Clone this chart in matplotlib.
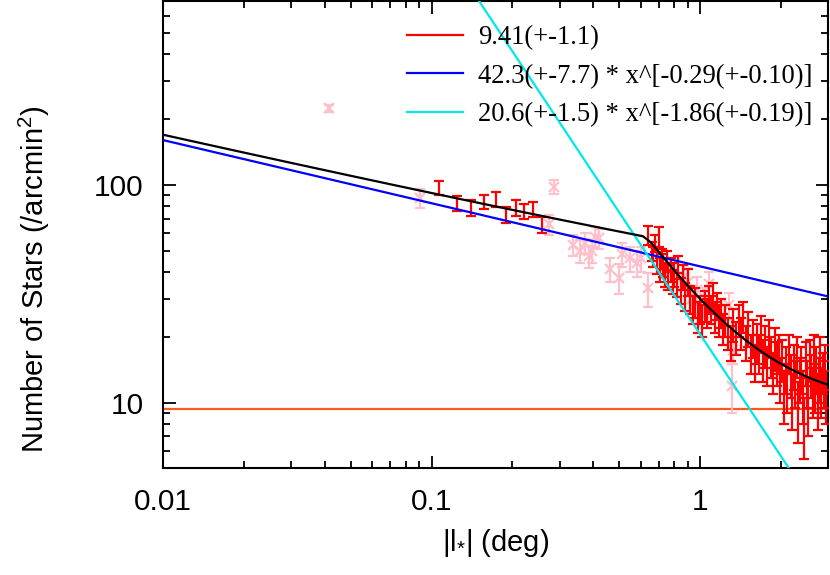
import numpy as np
import matplotlib
matplotlib.use("Agg")
import matplotlib.pyplot as plt
from matplotlib.lines import Line2D

plt.rcParams["font.family"] = ["Liberation Sans", "DejaVu Sans"]
plt.rcParams["mathtext.fontset"] = "custom"
plt.rcParams["mathtext.rm"] = "Liberation Sans"
plt.rcParams["mathtext.it"] = "Liberation Sans:italic"
plt.rcParams["mathtext.bf"] = "Liberation Sans:bold"

# ---- fit parameters (from legend) ----
const_level = 9.41
pow1_amp, pow1_idx = 42.3, -0.29
pow2_amp, pow2_idx = 20.6, -1.86
legend_labels = ["9.41(+-1.1)",
                 "42.3(+-7.7) * x^[-0.29(+-0.10)]",
                 "20.6(+-1.5) * x^[-1.86(+-0.19)]"]

# ---- red data points ----
red_x = [0.107, 0.1245, 0.1404, 0.1574, 0.1734, 0.190, 0.207, 0.2216, 0.2388, 0.258,
         0.64, 0.66, 0.67, 0.68, 0.69, 0.70, 0.71, 0.72, 0.73, 0.74, 0.75, 0.76, 0.78, 0.79,
         0.80, 0.82, 0.83, 0.85, 0.86, 0.88, 0.90, 0.92, 0.94, 0.96, 0.98, 1.00, 1.02, 1.04,
         1.06, 1.08, 1.10, 1.12, 1.14, 1.16, 1.18, 1.20, 1.22, 1.24, 1.27, 1.30, 1.33, 1.36,
         1.39, 1.42, 1.45, 1.48, 1.51, 1.54, 1.57, 1.60, 1.63, 1.66, 1.69, 1.72, 1.75, 1.78,
         1.81, 1.84, 1.87, 1.90, 1.93, 1.96, 1.99, 2.02, 2.05, 2.08, 2.11, 2.14, 2.17, 2.20,
         2.23, 2.26, 2.29, 2.32, 2.35, 2.38, 2.41, 2.44, 2.47, 2.50, 2.53, 2.56, 2.59, 2.62,
         2.65, 2.68, 2.71, 2.74, 2.77, 2.80, 2.83, 2.86, 2.89, 2.92, 2.95]
red_y = [96.9, 82.1, 78.7, 83.9, 86.0, 72.9, 78.7, 76.1, 77.4, 65.7,
         59, 50, 47, 54, 44, 58, 41, 46, 43, 39, 45, 38, 41, 36,
         39, 35, 42, 33, 38, 31, 36, 30, 27, 29, 25, 27, 24, 28,
         26, 30, 27, 31, 25, 28, 24, 26, 22, 24, 21, 19, 23, 20,
         24, 21, 25, 19, 22, 17, 20, 15.5, 19, 17, 21, 16, 18.5, 15,
         20, 16.5, 14, 18, 15.5, 17, 13, 16, 11, 14.5, 12, 17, 13.5, 10.5,
         15, 12.5, 16.5, 9.5, 13, 14.5, 11, 8, 15.5, 12.5, 10, 16, 13.5, 11.5,
         17, 12, 14.5, 10.5, 13, 16.5, 11.5, 14, 12.5, 15, 11]
red_err = [7, 6.5, 6.5, 6.5, 7, 6, 6.5, 6, 6, 5.5,
           6, 5, 5, 5, 5, 6, 5, 5, 5, 5, 5, 5, 5, 4.5,
           5, 4.5, 5, 4.5, 5, 4.5, 5, 4.5, 4, 4.5, 4, 4, 4, 4.5,
           4, 4.5, 4, 4.5, 4, 4, 4, 4, 3.5, 4, 3.5, 3.5, 4, 3.5,
           4, 3.5, 4, 3.5, 4, 3.5, 4, 3, 4, 3.5, 4, 3.5, 4, 3,
           4, 3.5, 3, 4, 3.5, 3.5, 3, 3.5, 3, 3.5, 3, 3.5, 3, 3,
           3.5, 3, 3.5, 3, 3, 3.5, 3, 2.5, 3.5, 3, 3, 3.5, 3, 3,
           3.5, 3, 3.5, 3, 3, 3.5, 3, 3, 3, 3.5, 3]

# ---- pink data points ----
pink_x = [0.0414, 0.0904, 0.2745, 0.2866, 0.337, 0.357, 0.372, 0.385, 0.396, 0.405, 0.42,
          0.46, 0.50, 0.51, 0.55, 0.58, 0.60, 0.64, 0.87, 0.90, 0.93, 0.97, 1.03, 1.08,
          1.28, 1.32, 1.31]
pink_y = [225, 87, 66, 98, 53, 50, 54, 47, 50, 58, 57,
          41, 37.6, 48, 46, 44, 46, 33.5, 38, 36, 30, 33, 29, 35,
          28, 17.5, 12]
pink_err = [8, 8.5, 7, 7, 6, 6, 6, 5.5, 6, 6, 6,
            5, 6, 6, 6, 6, 6, 6, 5, 5, 4.5, 5, 4.5, 5,
            4, 2.5, 3]

W, H = 830, 575
fig = plt.figure(figsize=(W / 100, H / 100), dpi=100)
L, R, T, B = 163, 828.3, 1.0, 468.3
ax = fig.add_axes([L / W, 1 - B / H, (R - L) / W, (B - T) / H])
ax.set_xscale("log")
ax.set_yscale("log")
ax.set_xlim(0.01, 3.0)
ax.set_ylim(5, 700)

xm = np.geomspace(0.01, 3.0, 80)
p1 = pow1_amp * xm ** pow1_idx
p2 = pow2_amp * xm ** pow2_idx

LW = 1.6
ax.axhline(const_level, color="#ff5a1e", lw=LW, zorder=2)
ax.plot(xm, p1, color="#0000ff", lw=LW, zorder=5)
ax.plot(xm, p2, color="#00e8e8", lw=LW, zorder=5)
ax.plot(xm, const_level + np.minimum(p1, p2), color="black", lw=LW, zorder=6)

ax.errorbar(pink_x, pink_y, yerr=pink_err, fmt="x", color="#ffc0cb", ms=7, mew=1.6,
            elinewidth=1.6, capsize=3.6, capthick=1.6, zorder=3)
ax.errorbar(red_x, red_y, yerr=red_err, fmt="none", ecolor="#ff0000",
            elinewidth=1.6, capsize=3.6, capthick=1.6, zorder=4)

ax.set_xticks([0.01, 0.1, 1])
ax.set_xticklabels(["0.01", "0.1", "1"])
ax.set_yticks([10, 100])
ax.set_yticklabels(["10", "100"])
ax.tick_params(which="both", direction="in", top=True, right=True, width=1.3, labelsize=21.5)
ax.tick_params(which="major", length=9, pad=14)
ax.tick_params(which="minor", length=5)
for s in ax.spines.values():
    s.set_linewidth(1.5)

ax.set_xlabel(r"|l$_{*}$| (deg)", fontsize=21, labelpad=8)
fig.text(34.5 / W, 1 - 279 / H, r"Number of Stars (/arcmin$^2$)", fontsize=21,
         rotation=90, ha="center", va="center")

handles = [Line2D([], [], color="#ff0000", lw=LW),
           Line2D([], [], color="#0000ff", lw=LW),
           Line2D([], [], color="#00e8e8", lw=LW)]
leg = ax.legend(handles, legend_labels, loc="upper left",
                bbox_to_anchor=(394 / W, 1 - 12 / H), bbox_transform=fig.transFigure,
                frameon=False, prop={"family": "Liberation Serif", "size": 19.2},
                handlelength=2.1, handletextpad=0.55, labelspacing=0.5, borderpad=0)

fig.savefig("out.png", dpi=100)
